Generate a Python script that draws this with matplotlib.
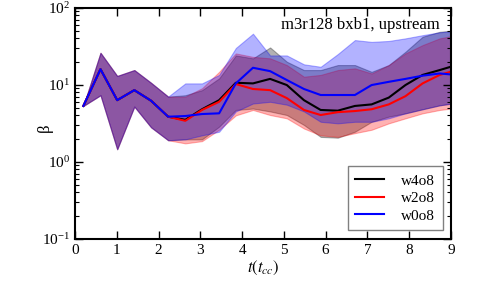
import numpy as np
import matplotlib
matplotlib.use("Agg")
import matplotlib.pyplot as plt
from matplotlib.ticker import LogLocator, NullFormatter

plt.rcParams['font.family'] = ['Liberation Serif', 'DejaVu Serif']
plt.rcParams['mathtext.fontset'] = 'stix'

# time of each dump (t_cc)
t = [0.2, 0.61, 1.01, 1.42, 1.82, 2.23, 2.64, 3.04, 3.45, 3.85, 4.26, 4.67,
     5.07, 5.48, 5.88, 6.29, 6.70, 7.10, 7.51, 7.91, 8.32, 8.73, 9.13]

# w4o8 (black)
b_mid = [5.3, 15.9, 6.3, 8.5, 6.2, 3.84, 3.5, 4.8, 6.3, 10.6, 10.4, 11.9,
         9.9, 6.3, 4.7, 4.6, 5.3, 5.55, 6.8, 9.9, 13.4, 15.5, 18.0]
b_hi = [5.3, 26.0, 13.0, 15.5, 10.6, 7.0, 7.3, 8.5, 12.1, 24.0, 22.0, 30.5,
        19.9, 15.5, 15.5, 18.0, 18.0, 14.7, 18.0, 26.8, 42.0, 48.7, 51.0]
b_lo = [5.3, 7.3, 1.45, 5.2, 2.8, 1.9, 1.95, 1.95, 2.85, 4.7, 4.9, 4.5,
        4.04, 3.0, 2.1, 2.05, 2.45, 3.3, 3.85, 4.25, 4.8, 5.4, 5.8]

# w2o8 (red)
r_mid = [5.3, 15.9, 6.3, 8.5, 6.2, 3.84, 3.4, 4.7, 6.0, 10.2, 8.8, 8.5,
         6.7, 4.7, 4.04, 4.4, 4.55, 4.8, 5.55, 7.1, 10.4, 13.4, 15.5]
r_hi = [5.3, 26.0, 13.0, 15.5, 10.6, 7.0, 7.0, 9.0, 14.7, 25.5, 23.0, 22.0,
        18.0, 12.7, 13.4, 15.5, 16.3, 14.0, 18.0, 25.5, 32.7, 40.0, 44.0]
r_lo = [5.3, 7.3, 1.45, 5.2, 2.8, 1.9, 1.73, 1.85, 2.6, 4.0, 4.7, 4.04,
        3.66, 2.7, 2.2, 2.1, 2.35, 2.6, 3.15, 3.66, 4.25, 4.7, 5.0]

# w0o8 (blue)
u_mid = [5.3, 15.9, 6.3, 8.5, 6.2, 3.84, 3.92, 4.16, 4.25, 10.4, 16.6, 15.0,
         11.5, 8.8, 7.35, 7.35, 7.35, 9.9, 10.9, 11.9, 13.1, 14.0, 13.4]
u_hi = [5.3, 26.0, 13.0, 15.5, 10.6, 7.0, 10.4, 10.4, 13.4, 30.0, 46.0, 24.0,
        24.0, 18.4, 17.1, 25.0, 38.0, 36.0, 37.0, 40.0, 44.0, 48.0, 50.0]
u_lo = [5.3, 7.3, 1.45, 5.2, 2.8, 1.9, 1.95, 2.2, 2.45, 4.5, 5.7, 6.0,
        5.5, 4.5, 3.3, 3.15, 3.3, 3.3, 3.66, 4.25, 4.8, 5.4, 5.8]

runs = [("w4o8", "k", b_mid, b_lo, b_hi),
        ("w2o8", "r", r_mid, r_lo, r_hi),
        ("w0o8", "b", u_mid, u_lo, u_hi)]

fig = plt.figure(figsize=(5.01, 2.86), dpi=100)
ax = fig.add_axes([0.1497, 0.1654, 0.7505, 0.8076])

for name, c, mid, lo, hi in runs:
    ax.fill_between(t, lo, hi, color=c, alpha=0.3, linewidth=0.8)
for name, c, mid, lo, hi in runs:
    ax.plot(t, mid, color=c, lw=1.5, label=name)

ax.set_yscale('log')
ax.set_xlim(0, 9)
ax.set_ylim(1e-1, 1e2)
ax.set_xticks(range(10))
ax.yaxis.set_minor_locator(LogLocator(base=10, subs=np.arange(2, 10)))
ax.yaxis.set_minor_formatter(NullFormatter())
ax.tick_params(which='both', direction='in', top=True, right=True, labelsize=11)
ax.tick_params(which='major', length=6, width=1)
ax.tick_params(which='minor', length=3, width=0.8)
for s in ax.spines.values():
    s.set_linewidth(1.5)

ax.set_xlabel(r'$t(t_{cc})$', fontsize=12, labelpad=2)
ax.set_ylabel('β', fontsize=12)
ax.yaxis.set_label_coords(-0.06, 0.48)
ax.text(0.97, 0.925, 'm3r128 bxb1, upstream', transform=ax.transAxes,
        ha='right', va='center', fontsize=12)

leg = ax.legend(loc='lower right', fontsize=11, fancybox=False,
                handlelength=1.9, handletextpad=1.1, borderaxespad=0.55,
                labelspacing=0.25, borderpad=0.5)
leg.get_frame().set_edgecolor('0.5')
leg.get_frame().set_linewidth(1)
leg.get_frame().set_alpha(1)

fig.savefig('out.png', dpi=100)
